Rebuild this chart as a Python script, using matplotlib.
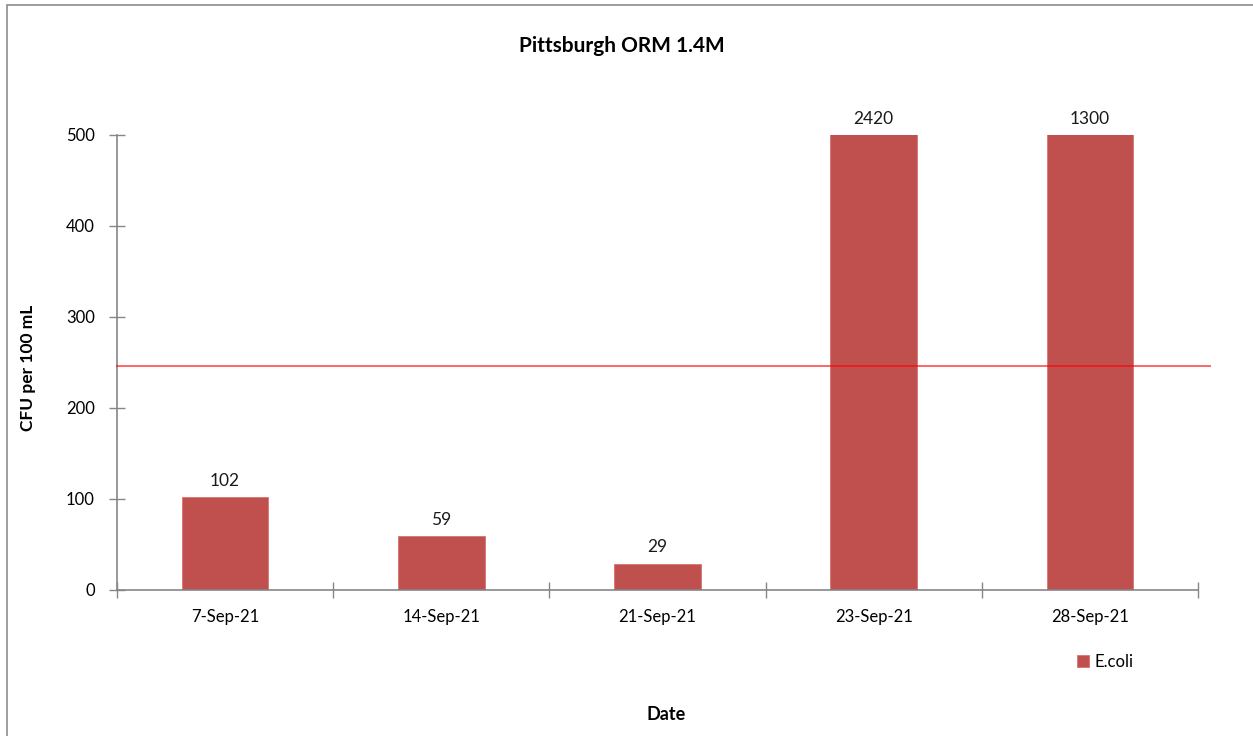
import matplotlib
matplotlib.use("Agg")
import matplotlib.pyplot as plt
from matplotlib.patches import Rectangle

dates = ["7-Sep-21", "14-Sep-21", "21-Sep-21", "23-Sep-21", "28-Sep-21"]
ecoli = [102, 59, 29, 2420, 1300]
threshold = 246
y_max = 500
y_ticks = [0, 100, 200, 300, 400, 500]

BAR_COLOR = "#C0504D"
AXIS_COLOR = "#868686"
FONT = ["Lato", "DejaVu Sans"]

plt.rcParams["font.family"] = FONT

fig = plt.figure(figsize=(12.53, 7.36), dpi=100)
W, H = 1253, 736
ax = fig.add_axes([117 / W, 1 - 590 / H, (1198 - 117) / W, (590 - 135) / H])

x = list(range(len(dates)))
bars = ax.bar(x, ecoli, width=0.4, color=BAR_COLOR, edgecolor="#D9736F",
              linewidth=0.6, label="E.coli", zorder=2)
for xi, v in zip(x, ecoli):
    ax.annotate(str(v), (xi, min(v, y_max)), xytext=(0, 6),
                textcoords="offset points", ha="center", va="bottom",
                fontsize=12.5, color="#1a1a1a", annotation_clip=False)

# threshold line, runs slightly past the last tick like the original
ax.plot([0, 1.011], [threshold, threshold], color="red", alpha=0.6,
        linewidth=1.4, transform=ax.get_yaxis_transform(), clip_on=False, zorder=3)

ax.set_xlim(-0.5, len(dates) - 0.5)
ax.set_ylim(0, y_max)
ax.set_yticks(y_ticks)
ax.set_xticks(x)
ax.set_xticklabels(dates)
ax.set_xticks([i - 0.5 for i in range(len(dates) + 1)], minor=True)
ax.tick_params(axis="x", which="major", length=0, pad=14, labelsize=12)
ax.tick_params(axis="x", which="minor", direction="inout", length=12,
               color=AXIS_COLOR, width=1)
ax.tick_params(axis="y", direction="inout", length=12, color=AXIS_COLOR,
               width=1, pad=10, labelsize=12)

for side in ("top", "right"):
    ax.spines[side].set_visible(False)
for side in ("left", "bottom"):
    ax.spines[side].set_color(AXIS_COLOR)
    ax.spines[side].set_linewidth(1.2)

fig.text(622 / W, 1 - 46 / H, "Pittsburgh ORM 1.4M", ha="center", va="center",
         fontsize=15, fontweight="bold")
fig.text(666 / W, 1 - 715 / H, "Date", ha="center", va="center",
         fontsize=13, fontweight="bold")
fig.text(28 / W, 1 - 368 / H, "CFU per 100 mL", ha="center", va="center",
         rotation=90, fontsize=12.5, fontweight="bold")

fig.legend(handles=[bars], labels=["E.coli"], loc="center left",
           bbox_to_anchor=(1062 / W, 1 - 662 / H), frameon=False,
           handlelength=0.7, handleheight=0.7, handletextpad=0.35, fontsize=12)

fig.patches.append(Rectangle((6.5 / W, -0.02), 1.05, 1 - 4.5 / H + 0.02,
                             transform=fig.transFigure, fill=False,
                             edgecolor="#8c8c8c", linewidth=1.2))

fig.savefig("out.png", dpi=100)
